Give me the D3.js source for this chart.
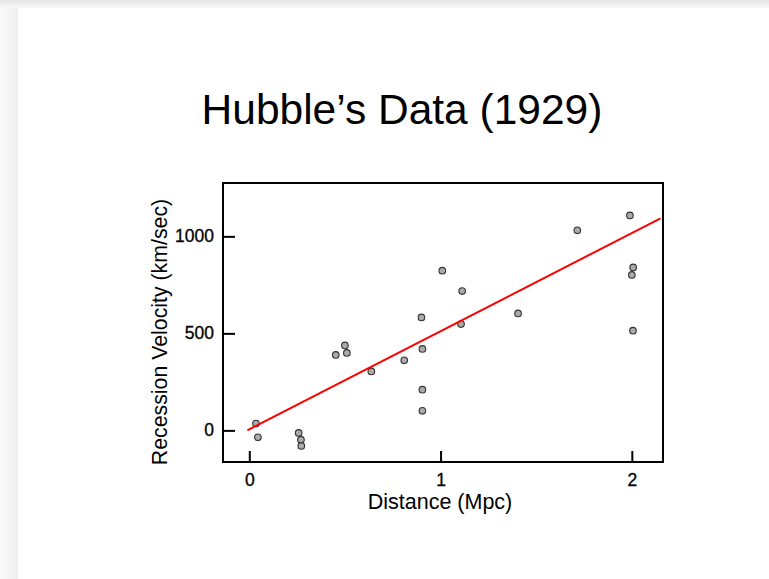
<!DOCTYPE html>
<html>
<head>
<meta charset="utf-8">
<script src="https://cdn.jsdelivr.net/npm/d3@7"></script>
<style>
html,body{margin:0;padding:0;background:#fff;}
svg{display:block;}
</style>
</head>
<body>
<svg id="chart" width="769" height="579"></svg>
<script>
// Data
const distance = [0.035, 0.045, 0.258, 0.270, 0.272, 0.452, 0.500, 0.510, 0.638, 0.810, 0.905, 0.905, 0.905, 0.900, 1.009, 1.113, 1.107, 1.405, 1.715, 1.990, 2.007, 2.000, 2.006];
const velocity = [35, -36, -13, -48, -80, 389, 438, 399, 304, 361, 420, 210, 101, 582, 823, 718, 548, 603, 1031, 1108, 840, 801, 514];
const fitX = [-0.01, 2.15];
const fitY = [0, 1093];
const xTicks = [0, 1, 2];
const yTicks = [0, 500, 1000];
const titleText = "Hubble\u2019s Data (1929)";
const xLabel = "Distance (Mpc)";
const yLabel = "Recession Velocity (km/sec)";

(function(){
const svg = d3.select("#chart");
const W = 769, H = 579;

// page background with shadow at top and left
const defs = svg.append("defs");
const gTop = defs.append("linearGradient").attr("id","gTop").attr("x1",0).attr("y1",0).attr("x2",0).attr("y2",1);
gTop.append("stop").attr("offset","0%").attr("stop-color","#e6e6e6");
gTop.append("stop").attr("offset","100%").attr("stop-color","#f7f7f7");
const gLeft = defs.append("linearGradient").attr("id","gLeft").attr("x1",0).attr("y1",0).attr("x2",1).attr("y2",0);
gLeft.append("stop").attr("offset","0%").attr("stop-color","#fafafa");
gLeft.append("stop").attr("offset","100%").attr("stop-color","#eeeeee");
svg.append("rect").attr("x",0).attr("y",0).attr("width",W).attr("height",H).attr("fill","#f4f4f4");
svg.append("rect").attr("x",0).attr("y",0).attr("width",W).attr("height",8).attr("fill","url(#gTop)");
svg.append("rect").attr("x",0).attr("y",8).attr("width",18).attr("height",H-8).attr("fill","url(#gLeft)");
svg.append("rect").attr("x",18).attr("y",8).attr("width",W-18).attr("height",H-8).attr("fill","#ffffff");

const pLeft = 223, pRight = 663, pTop = 183, pBottom = 462;
const x = d3.scaleLinear().domain([-0.1375, 2.163]).range([pLeft, pRight]);
const y = d3.scaleLinear().domain([-163, 1275]).range([pBottom, pTop]);

const font = "'Liberation Sans', Arial, sans-serif";

// title
svg.append("text").attr("x",402).attr("y",124).attr("text-anchor","middle")
  .attr("font-family",font).attr("font-size",42.5).attr("fill","#000").text(titleText);

// axes with inward ticks
const xAxis = d3.axisBottom(x).tickValues(xTicks).tickSize(-11).tickPadding(12).tickFormat(d3.format("d"));
const yAxis = d3.axisLeft(y).tickValues(yTicks).tickSize(-12).tickPadding(9).tickFormat(d3.format("d"));

const gx = svg.append("g").attr("transform",`translate(0,${pBottom})`).call(xAxis);
const gy = svg.append("g").attr("transform",`translate(${pLeft},0)`).call(yAxis);
[gx, gy].forEach(g => {
  g.attr("font-size",null).attr("font-family",null);
  g.select(".domain").remove();
  g.selectAll(".tick line").attr("stroke","#000").attr("stroke-width",2);
  g.selectAll(".tick text").attr("font-family",font).attr("font-size",17.5).attr("fill","#000")
    .attr("stroke","#000").attr("stroke-width",0.3);
});

// data points
svg.append("g").selectAll("circle").data(distance.map((d,i)=>[d, velocity[i]])).join("circle")
  .attr("cx", d => x(d[0])).attr("cy", d => y(d[1])).attr("r", 3.3)
  .attr("fill","#aaaaaa").attr("stroke","#333").attr("stroke-width",1.1);

// fitted line
svg.append("line")
  .attr("x1", x(fitX[0])).attr("y1", y(fitY[0]))
  .attr("x2", x(fitX[1])).attr("y2", y(fitY[1]))
  .attr("stroke","#ff0000").attr("stroke-width",2);

// frame
svg.append("rect").attr("x",pLeft).attr("y",pTop).attr("width",pRight-pLeft).attr("height",pBottom-pTop)
  .attr("fill","none").attr("stroke","#000").attr("stroke-width",2);

// axis labels
svg.append("text").attr("x",440).attr("y",509).attr("text-anchor","middle")
  .attr("font-family",font).attr("font-size",21.5).attr("fill","#000").text(xLabel);
svg.append("text").attr("transform","translate(167,332) rotate(-90)").attr("text-anchor","middle")
  .attr("font-family",font).attr("font-size",21.3).attr("fill","#000").text(yLabel);
})();
</script>
</body>
</html>
